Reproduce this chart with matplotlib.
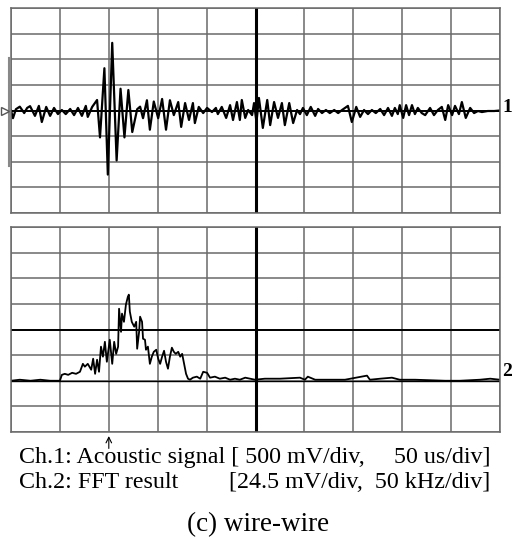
import matplotlib.pyplot as plt
import numpy as np

plt.rcParams['font.family'] = ['Liberation Serif', 'DejaVu Serif']

# Ch.1 acoustic signal in divisions (x: 0..10, y: -4..4)
ch1_t = [0.00, 0.04, 0.10, 0.18, 0.27, 0.33, 0.39, 0.49, 0.57, 0.63, 0.72, 0.80,
         0.88, 0.96, 1.04, 1.12, 1.21, 1.29, 1.37, 1.45, 1.53, 1.57, 1.66, 1.76,
         1.82, 1.91, 1.98, 2.07, 2.16, 2.24, 2.32, 2.40, 2.48, 2.58, 2.64, 2.70,
         2.78, 2.84, 2.92, 3.01, 3.09, 3.17, 3.25, 3.33, 3.42, 3.48, 3.56, 3.64,
         3.72, 3.76, 3.84, 3.93, 4.01, 4.11, 4.19, 4.23, 4.31, 4.40, 4.48, 4.54,
         4.62, 4.68, 4.72, 4.79, 4.85, 4.93, 4.97, 5.02, 5.07, 5.15, 5.24, 5.30,
         5.38, 5.46, 5.54, 5.60, 5.69, 5.77, 5.85, 5.91, 5.97, 6.05, 6.13, 6.22,
         6.28, 6.36, 6.44, 6.52, 6.61, 6.69, 6.77, 6.89, 6.97, 7.06, 7.14, 7.22,
         7.30, 7.38, 7.46, 7.55, 7.63, 7.71, 7.79, 7.85, 7.91, 7.95, 8.02, 8.08,
         8.14, 8.20, 8.26, 8.32, 8.40, 8.47, 8.57, 8.65, 8.73, 8.81, 8.88, 8.94,
         9.02, 9.08, 9.16, 9.22, 9.30, 9.39, 9.47, 9.55, 9.63, 9.75, 9.88, 10.0]
ch1_v = [0.00, -0.30, 0.05, 0.15, -0.10, 0.10, 0.17, -0.21, 0.18, -0.45, 0.14, -0.21,
         0.10, -0.14, 0.02, -0.14, 0.06, -0.18, 0.10, -0.21, 0.18, -0.25, 0.14, 0.41,
         -1.05, 1.65, -2.50, 2.64, -1.95, 0.85, -1.05, 0.80, -0.84, 0.05, 0.15, -0.30,
         0.40, -0.75, 0.35, -0.30, 0.45, -0.75, 0.40, -0.18, 0.33, -0.64, 0.29, -0.37,
         0.29, -0.49, 0.14, -0.10, 0.10, -0.06, 0.10, -0.14, 0.14, -0.29, 0.21, -0.37,
         0.33, -0.37, 0.41, -0.29, 0.02, -0.18, 0.29, -0.45, 0.49, -0.68, 0.41, -0.57,
         0.33, -0.29, 0.29, -0.57, 0.29, -0.49, 0.02, -0.14, 0.10, -0.18, 0.14, -0.21,
         0.06, -0.10, 0.02, -0.10, 0.02, -0.10, 0.02, 0.18, -0.45, 0.14, -0.25, 0.02,
         -0.14, 0.02, -0.10, 0.06, -0.18, 0.10, -0.21, 0.10, -0.14, 0.21, -0.29, 0.21,
         -0.18, 0.21, -0.14, 0.10, -0.10, -0.18, 0.10, -0.18, 0.02, 0.14, -0.37, 0.21,
         -0.18, 0.18, -0.14, 0.33, -0.29, 0.10, -0.10, -0.02, -0.06, -0.02, -0.02, 0.00]

# Ch.2 FFT result, divisions above its ground marker
ch2_f = [0.00, 0.18, 0.40, 0.60, 0.80, 1.00, 1.04, 1.10, 1.17, 1.25, 1.33, 1.41,
         1.47, 1.51, 1.57, 1.64, 1.68, 1.72, 1.76, 1.80, 1.84, 1.88, 1.92, 1.96,
         2.02, 2.07, 2.11, 2.15, 2.19, 2.21, 2.25, 2.27, 2.31, 2.35, 2.39, 2.41,
         2.43, 2.47, 2.52, 2.56, 2.58, 2.62, 2.64, 2.68, 2.70, 2.74, 2.76, 2.80,
         2.84, 2.88, 2.92, 2.97, 3.01, 3.05, 3.09, 3.13, 3.17, 3.21, 3.25, 3.29,
         3.33, 3.37, 3.42, 3.46, 3.50, 3.54, 3.58, 3.62, 3.66, 3.72, 3.80, 3.87,
         3.93, 4.01, 4.07, 4.17, 4.27, 4.38, 4.48, 4.58, 4.68, 4.79, 4.89, 4.99,
         5.19, 5.50, 5.91, 6.01, 6.07, 6.22, 6.52, 6.83, 7.28, 7.34, 7.55, 7.79,
         7.95, 8.26, 8.88, 9.18, 9.59, 9.80, 10.0]
ch2_a = [0.00, 0.04, 0.00, 0.04, 0.00, 0.00, 0.23, 0.27, 0.23, 0.31, 0.27, 0.35,
         0.66, 0.55, 0.66, 0.43, 0.86, 0.27, 0.82, 0.35, 1.33, 0.94, 1.52, 0.74,
         1.60, 0.66, 1.52, 1.05, 1.33, 2.81, 1.91, 2.62, 2.30, 2.97, 3.28, 3.36,
         2.70, 2.30, 2.11, 2.30, 1.25, 1.91, 2.50, 2.30, 1.64, 1.60, 1.21, 1.33,
         0.66, 0.94, 1.13, 1.21, 0.86, 0.66, 0.94, 1.17, 0.74, 0.47, 0.94, 1.29,
         1.13, 1.05, 1.13, 0.94, 1.05, 0.66, 0.27, 0.08, 0.04, 0.12, 0.16, 0.08,
         0.35, 0.31, 0.12, 0.16, 0.08, 0.12, 0.04, 0.08, 0.04, 0.12, 0.08, 0.04,
         0.08, 0.08, 0.12, 0.04, 0.16, 0.04, 0.04, 0.04, 0.20, 0.04, 0.08, 0.12,
         0.04, 0.04, 0.00, 0.00, 0.04, 0.08, 0.04]
ch2_ground = -2

grid_color = '#6a6a6a'

fig = plt.figure(figsize=(5.12, 5.38), dpi=100)
ax1 = fig.add_axes([11/512, 1 - 213/538, 489/512, 205/538])
ax2 = fig.add_axes([11/512, 1 - 432/538, 489/512, 205/538])

for ax in (ax1, ax2):
    ax.set_xlim(0, 10)
    ax.set_ylim(-4, 4)
    ax.set_xticks(np.arange(0, 11))
    ax.set_yticks(np.arange(-4, 5))
    ax.grid(True, color=grid_color, linewidth=1.1)
    ax.tick_params(length=0, labelbottom=False, labelleft=False)
    for s in ax.spines.values():
        s.set_color(grid_color)
        s.set_linewidth(1.1)
    ax.axvline(5, color='black', linewidth=2.2)
    ax.axhline(0, color='black', linewidth=1.4)

ax1.plot(ch1_t, ch1_v, color='black', linewidth=1.6)
ax2.plot(ch2_f, np.array(ch2_a) + ch2_ground, color='black', linewidth=1.3)
ax2.axhline(ch2_ground, color='black', linewidth=1.0)

# left side markers of channel 1
ax1.plot([-0.04, -0.04], [-2.15, 2.05], color='#888888', linewidth=1.5, clip_on=False)
ax1.plot([-0.13], [0], marker='>', markersize=6, markerfacecolor='white',
         markeredgecolor='#555555', clip_on=False)

ax1.text(10.06, 0.12, '1', fontsize=14, fontweight='bold', ha='left', va='center')
ax2.text(10.05, ch2_ground + 0.02, '2', fontsize=14, fontweight='bold', ha='left', va='bottom')

ax2.annotate('', xy=(2.0, -4.05), xytext=(2.0, -4.75), annotation_clip=False,
             arrowprops=dict(arrowstyle='->', color='black', linewidth=0.8))

fig.text(19/512, 1 - 463/538, 'Ch.1: Acoustic signal [ 500 mV/div,', fontsize=17.3,
         ha='left', va='baseline')
fig.text(490/512, 1 - 463/538, '50 us/div]', fontsize=17.3, ha='right', va='baseline')
fig.text(19/512, 1 - 488/538, 'Ch.2: FFT result', fontsize=17.3, ha='left', va='baseline')
fig.text(490/512, 1 - 488/538, '[24.5 mV/div,  50 kHz/div]', fontsize=17.3,
         ha='right', va='baseline')
fig.text(258/512, 1 - 531/538, '(c) wire-wire', fontsize=19.5, ha='center', va='baseline')

fig.savefig('out.png', dpi=100)
